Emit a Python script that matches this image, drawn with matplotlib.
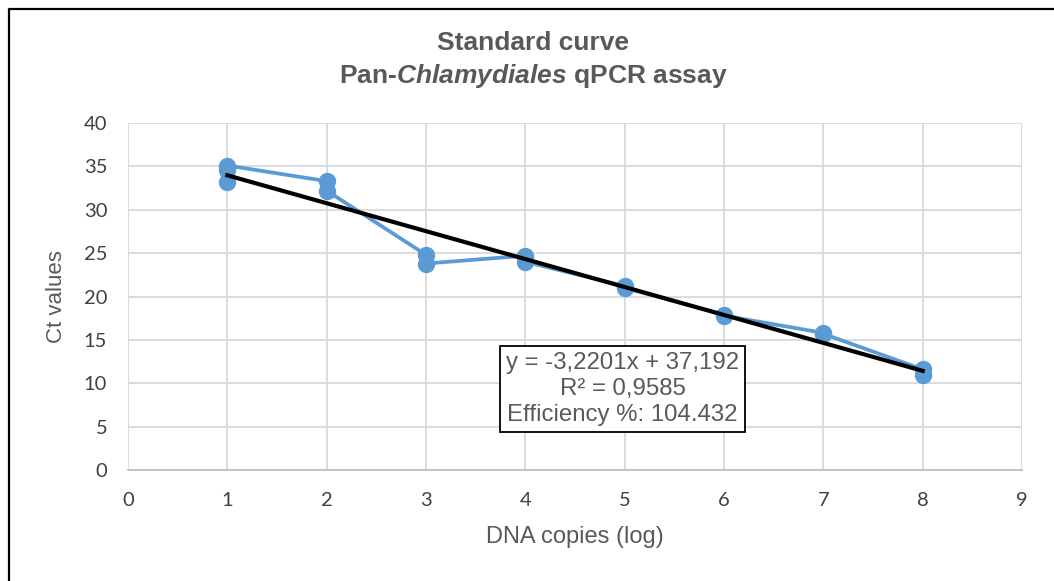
import matplotlib.pyplot as plt
import matplotlib.lines as mlines
import numpy as np

plt.rcParams['font.family'] = ['Liberation Sans', 'DejaVu Sans']
plt.rcParams['mathtext.fontset'] = 'custom'
plt.rcParams['mathtext.bfit'] = 'Liberation Sans:italic:bold'

# replicate readings per dilution step, in plotting order
dna_log = [1, 1, 1, 2, 2, 3, 3, 4, 4, 5, 5, 6, 6, 7, 7, 8, 8]
ct_vals = [33.2, 34.6, 35.1, 33.3, 32.2, 24.8, 23.8, 24.7, 24.0,
           21.2, 21.0, 17.9, 17.8, 15.8, 15.7, 11.6, 11.0]

slope = -3.2201
intercept = 37.192
r2 = 0.9585
efficiency = 104.432

blue = '#5B9BD5'
grey = '#595959'

fig = plt.figure(figsize=(10.54, 5.81), dpi=100)
ax = fig.add_axes([128 / 1054, 1 - 470 / 581, (1022 - 128) / 1054, (470 - 123) / 581])

ax.plot(dna_log, ct_vals, color=blue, lw=2.7, marker='o', ms=11.5,
        markerfacecolor=blue, markeredgecolor=blue, zorder=3)

xf = np.array([min(dna_log), max(dna_log)])
ax.plot(xf, slope * xf + intercept, color='black', lw=3, zorder=4)

ax.set_xlim(0, 9)
ax.set_ylim(0, 40)
ax.set_xticks(range(0, 10))
ax.set_yticks(range(0, 41, 5))
ax.grid(True, color='#D9D9D9', lw=1.3)
ax.set_axisbelow(True)
for s in ['top', 'right', 'left']:
    ax.spines[s].set_visible(False)
ax.spines['bottom'].set_color('#BFBFBF')
ax.spines['bottom'].set_linewidth(1.3)
ax.tick_params(length=0, labelsize=14.5, labelcolor='#404040')
ax.tick_params(axis='x', pad=16)
ax.tick_params(axis='y', pad=15)
for lab in ax.get_xticklabels() + ax.get_yticklabels():
    lab.set_family(['Lato', 'DejaVu Sans'])

ax.set_xlabel('DNA copies (log)', fontsize=17, color=grey, labelpad=12)
ax.set_ylabel('Ct values', fontsize=16, color=grey, labelpad=12)

fig.text(533 / 1054, 1 - 43 / 581, 'Standard curve', ha='center', va='center',
         fontsize=19, fontweight='bold', color=grey)
fig.text(533 / 1054, 1 - 76 / 581, r'Pan-$\mathbfit{Chlamydiales}$ qPCR assay',
         ha='center', va='center', fontsize=19, fontweight='bold', color=grey)

eq_txt = ('y = ' + f'{slope:.4f}'.replace('.', ',') + 'x + '
          + f'{intercept:.3f}'.replace('.', ',')
          + '\nR² = ' + f'{r2:.4f}'.replace('.', ',')
          + f'\nEfficiency %: {efficiency:.3f}')
ax.text(4.98, 9.34, eq_txt, ha='center', va='center', fontsize=17.3,
        color=grey, linespacing=1.22, zorder=5,
        bbox=dict(boxstyle='square,pad=0.25', fc='white', ec='black', lw=1.3))

# chart frame: only left and top edges fall inside the picture
fig.add_artist(mlines.Line2D([8.5 / 1054, 8.5 / 1054, 1.0], [0.0, 1 - 8.5 / 581, 1 - 8.5 / 581],
                             transform=fig.transFigure, color='black', lw=1.6))

fig.savefig('out.png', dpi=100)
